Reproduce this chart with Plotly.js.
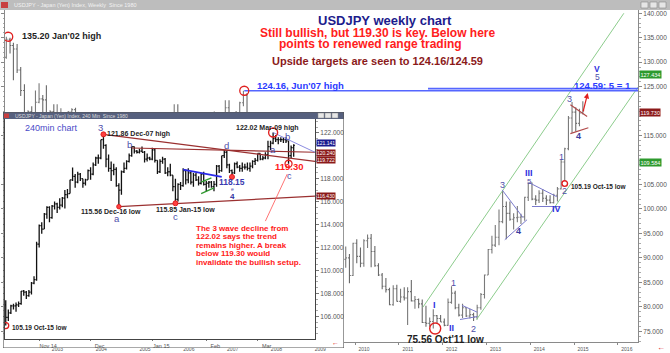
<!DOCTYPE html>
<html><head><meta charset="utf-8">
<script src="https://cdn.plot.ly/plotly-3.0.1.min.js"></script>
<style>
html,body{margin:0;padding:0;background:#fff;width:670px;height:353px;overflow:hidden;}
#main{position:absolute;left:0;top:0;width:670px;height:353px;}
#inset{position:absolute;left:3px;top:112px;width:341px;height:236px;}
</style></head><body>
<div id="main"></div><div id="inset"></div>
<script>
const FONT = 'Liberation Sans, Arial, sans-serif';

// ================= MAIN (weekly) chart data: monthly OHLC =================
const mainStartYear = 2002;
const mOpen = [
131.0,134.7,133.4,132.7,128.4,124.2,119.5,119.9,118.3,121.8,122.5,122.3,
118.7,119.9,117.6,118.0,119.0,119.4,119.8,120.3,116.8,111.5,109.1,109.5,
107.1,105.8,109.1,103.9,110.2,110.2,108.7,111.8,109.3,110.4,105.8,103.1,
102.6,103.6,104.6,107.1,104.7,108.6,110.9,112.6,111.4,113.4,116.4,119.7,
117.9,117.2,115.8,117.5,113.9,112.5,114.4,114.7,117.4,118.1,117.0,115.7,
119.0,120.7,118.5,117.8,119.5,121.7,123.2,118.7,115.8,114.9,115.4,111.1,
111.7,106.4,103.9,99.7,104.0,105.5,106.1,108.1,108.8,106.0,98.5,95.5,
90.6,89.9,97.6,98.9,98.6,95.3,96.4,94.7,93.0,89.7,90.0,86.4,
93.0,90.3,88.9,93.5,94.0,91.3,88.4,86.5,84.2,83.5,80.4,83.7,
81.1,82.0,81.8,83.1,81.2,81.5,80.6,76.8,76.6,77.0,78.2,77.6,
76.9,76.2,80.9,82.8,79.8,78.3,79.8,78.1,78.4,77.9,79.8,82.5,
86.5,91.7,92.6,94.2,97.4,100.5,99.1,97.9,98.2,98.3,98.4,102.4,
105.3,102.0,101.8,103.2,102.2,101.8,101.3,102.8,104.1,109.6,112.3,118.6,
119.8,117.5,119.6];
const mHigh = [
135.2,135.0,134.0,133.7,129.0,125.5,120.2,121.0,124.2,125.7,123.3,125.3,
120.2,121.4,121.4,120.6,119.4,120.0,120.6,120.7,117.0,112.0,110.8,109.8,
107.7,109.8,112.2,110.4,114.9,111.0,112.3,112.0,111.4,111.7,106.0,106.0,
104.9,106.2,107.7,108.0,108.6,111.2,113.7,112.9,113.6,116.4,121.4,121.4,
118.0,119.0,119.2,118.7,114.3,116.1,117.5,117.6,118.3,119.9,118.3,119.2,
122.2,122.2,119.2,120.0,121.9,124.16,123.7,119.8,117.0,118.0,115.6,114.7,
111.8,108.6,104.0,105.0,105.5,108.6,108.6,110.7,109.0,106.2,100.5,96.5,
94.6,98.6,99.7,101.4,99.0,98.9,96.5,97.8,93.3,92.3,90.8,93.1,
93.8,92.1,93.8,94.8,94.9,92.4,88.9,86.9,85.9,83.9,84.4,84.5,
83.7,84.0,84.0,85.5,82.2,81.7,81.5,80.2,77.8,79.5,78.3,78.3,
77.6,81.7,84.2,83.3,80.6,80.6,79.9,79.6,78.8,80.4,82.8,86.6,
91.8,94.5,96.7,99.9,103.7,101.5,101.5,99.1,100.6,99.0,102.5,105.4,
105.4,102.8,103.8,104.1,102.8,102.8,103.1,104.5,110.1,112.5,118.98,121.86,
120.8,120.5,122.02];
const mLow = [
130.7,131.8,126.3,127.8,123.1,119.3,115.5,116.6,116.2,121.6,119.7,118.5,
117.4,116.5,115.9,117.8,115.1,116.9,115.7,116.1,110.6,107.9,107.0,106.8,
105.3,104.2,103.4,103.5,108.7,106.9,108.3,108.5,108.8,105.6,102.0,101.9,
101.7,103.3,103.8,104.2,104.5,106.5,109.5,108.8,109.3,112.8,116.0,115.6,
113.4,115.5,115.4,113.4,108.9,110.9,113.4,113.6,115.3,116.5,115.4,114.4,
118.6,118.3,115.2,117.3,118.7,121.0,118.3,111.6,113.5,114.0,107.2,110.8,
104.9,103.5,95.8,99.5,101.4,103.6,103.8,107.6,103.5,90.9,93.5,87.1,
87.1,89.1,93.5,97.0,94.4,94.5,91.7,92.7,88.2,88.0,84.8,86.3,
88.9,88.1,88.2,92.0,88.1,88.2,86.3,83.6,82.9,80.3,80.2,81.1,
80.8,81.3,76.3,81.1,79.6,79.7,76.7,75.9,75.9,75.56,76.6,76.9,
76.0,76.1,80.6,79.5,78.0,77.7,77.9,77.6,77.1,77.4,79.4,81.7,
86.5,90.9,92.2,92.6,97.1,93.8,97.6,95.8,97.3,96.9,97.6,101.6,
101.8,100.8,101.2,101.4,100.8,101.1,101.1,101.5,104.0,105.19,112.0,115.56,
115.85,116.9,119.3];
const mClose = [
134.7,133.4,132.7,128.4,124.2,119.5,119.9,118.3,121.8,122.5,122.3,118.7,
119.9,117.6,118.0,119.0,119.4,119.8,120.3,116.8,111.5,109.1,109.5,107.1,
105.8,109.1,103.9,110.2,110.2,108.7,111.8,109.3,110.4,105.8,103.1,102.6,
103.6,104.6,107.1,104.7,108.6,110.9,112.6,111.4,113.4,116.4,119.7,117.9,
117.2,115.8,117.5,113.9,112.5,114.4,114.7,117.4,118.1,117.0,115.7,119.0,
120.7,118.5,117.8,119.5,121.7,123.2,118.7,115.8,114.9,115.4,111.1,111.7,
106.4,103.9,99.7,104.0,105.5,106.1,108.1,108.8,106.0,98.5,95.5,90.6,
89.9,97.6,98.9,98.6,95.3,96.4,94.7,93.0,89.7,90.0,86.4,93.0,
90.3,88.9,93.5,94.0,91.3,88.4,86.5,84.2,83.5,80.4,83.7,81.1,
82.0,81.8,83.1,81.2,81.5,80.6,76.8,76.6,77.0,78.2,77.6,76.9,
76.2,80.9,82.8,79.8,78.3,79.8,78.1,78.4,77.9,79.8,82.5,86.5,
91.7,92.6,94.2,97.4,100.5,99.1,97.9,98.2,98.3,98.4,102.4,105.3,
102.0,101.8,103.2,102.2,101.8,101.3,102.8,104.1,109.6,112.3,118.6,119.8,
117.5,119.6,120.1];

// right-axis labels (120 and 110 sit under the coloured price boxes)
const mainYTicks = [75,80,85,90,95,100,105,115,125,130,135,140];
const yearLabels = ['2002','2003','2004','2005','2006','2007','2008','2009','2010','2011','2012','2013','2014','2015','2016'];

// key levels / drawn studies (date, price)
const jun07High = ['2007-06-22', 124.16];
const targetLevel = 124.59;
const targetStart = '2011-09-01';
const jan02High = ['2002-01-31', 135.20];
const oct11Low = ['2011-10-31', 75.56];
const oct15Low = ['2014-10-15', 105.19];
const channelUpper = [['2011-07-20', 79.9], ['2016-02-20', 140.0]];
const channelLower = [['2012-10-10', 77.4], ['2016-06-17', 124.9]];
const tri2012 = [[['2012-06-10',80.3],['2012-10-15',78.9]], [['2012-05-25',77.4],['2012-10-15',78.0]]];
const tri2013 = [[['2013-05-11',103.9],['2013-11-02',98.2]], [['2013-06-02',93.7],['2013-12-05',97.8]]];
const tri2014 = [[['2013-12-20',105.4],['2014-08-10',102.5]], [['2014-01-15',100.5],['2014-08-28',100.5]]];
const wave4Lines = [[['2014-12-01',121.3],['2015-04-20',118.9]], [['2014-12-01',115.4],['2015-04-30',116.6]]];
const mainArrowTip = ['2015-04-25', 123.7];
const mainBoxes = [[127.43,'127.434','#2e9a2e'],[119.73,'119.730','#8b1a1a'],[109.58,'109.584','#2e9a2e']];

// ================= INSET (240 min) chart data: daily OHLC =================
const insetStart = '2014-10-15';
const iOpen = [
107.0,105.9,106.3,106.9,106.9,107.0,107.1,108.2,108.1,107.8,108.1,108.9,109.2,
112.3,113.9,113.6,114.9,115.5,114.6,115.6,115.8,115.5,115.7,116.3,116.6,116.7,117.9,118.2,117.7,118.4,118.0,117.6,117.9,
118.7,118.4,119.2,119.8,119.8,121.4,120.9,119.7,118.9,118.7,118.8,117.4,117.0,118.6,118.9,119.5,120.0,120.8,120.4,120.3,120.4,120.3,119.7,119.8,
119.7,120.5,119.6,118.6,119.5,119.7,118.5,118.6,118.3,117.3,116.2,117.5,117.4,118.7,117.9,118.5,117.7,118.3,117.9,117.6,118.4,
117.5,117.6,117.7,117.3,117.5,119.1,118.7,120.0,120.3,119.2,118.7,118.5,119.3,119.0,118.9,119.0,119.0,118.9,119.1,119.5,
119.6,120.2,119.7,119.8,120.1,120.8,121.1,121.5,121.4,121.4,121.4,121.4,121.3,120.0,120.7];
const iHigh = [
107.4,106.6,107.0,107.1,107.2,107.3,108.2,108.3,108.2,108.3,109.0,109.5,112.5,
114.0,114.2,115.0,115.6,115.6,115.7,116.0,115.9,116.3,116.4,117.0,117.1,117.9,118.98,118.4,118.6,118.5,118.0,118.0,118.8,
119.0,119.4,119.9,120.1,121.4,121.86,121.0,120.1,119.5,119.3,119.0,117.6,118.7,119.4,119.6,120.2,120.8,120.8,120.5,120.6,120.8,120.4,120.2,119.9,
120.7,120.6,119.6,119.7,119.9,119.8,119.0,119.3,118.3,118.0,117.6,117.7,118.9,118.8,118.9,118.6,118.5,118.5,118.2,118.5,118.6,
117.8,117.8,117.8,117.8,119.2,119.2,120.0,120.5,120.4,119.3,118.8,119.4,119.5,119.2,119.4,119.3,119.4,119.4,119.6,119.8,
120.2,120.2,120.0,120.3,121.3,121.3,122.02,121.8,121.6,121.6,121.6,121.6,121.3,120.9,121.0];
const iLow = [
105.19,105.6,106.2,106.6,106.4,106.8,107.0,107.8,107.5,107.7,107.9,108.8,109.1,
112.0,113.2,113.6,114.5,114.2,114.5,115.3,115.0,115.3,115.5,115.4,116.3,116.7,117.8,117.2,117.6,117.8,117.2,117.4,117.9,
117.9,118.3,119.1,119.3,119.7,120.6,119.0,118.6,117.8,118.3,117.3,115.56,116.6,118.5,118.8,119.4,119.9,120.2,120.2,120.2,120.3,119.4,119.5,119.6,
119.6,119.4,118.4,118.5,119.3,118.4,118.2,118.2,116.9,115.85,116.0,117.0,117.3,117.5,117.6,117.5,117.3,117.8,117.4,117.5,117.4,
116.9,117.2,117.2,116.9,117.3,118.5,118.6,119.8,118.9,118.5,118.15,118.4,118.9,118.6,118.6,118.8,118.7,118.6,118.9,119.2,
119.5,119.6,119.6,119.7,119.7,120.5,121.0,121.2,121.0,121.2,121.1,121.1,119.3,119.8,119.9];
const iClose = [
105.9,106.3,106.9,106.9,107.0,107.1,108.2,108.1,107.8,108.1,108.9,109.2,112.3,
113.9,113.6,114.9,115.5,114.6,115.6,115.8,115.5,115.7,116.3,116.6,116.7,117.9,118.2,117.7,118.4,118.0,117.6,117.9,118.7,
118.4,119.2,119.8,119.8,121.4,120.9,119.7,118.9,118.7,118.8,117.4,117.0,118.6,118.9,119.5,120.0,120.8,120.4,120.3,120.4,120.3,119.7,119.8,119.7,
120.5,119.6,118.6,119.5,119.7,118.5,118.6,118.3,117.3,116.2,117.5,117.4,118.7,117.9,118.5,117.7,118.3,117.9,117.6,118.4,117.5,
117.6,117.7,117.3,117.5,119.1,118.7,120.0,120.3,119.2,118.7,118.5,119.3,119.0,118.9,119.0,119.0,118.9,119.1,119.5,119.6,
120.2,119.7,119.8,120.1,120.8,121.1,121.5,121.4,121.4,121.4,121.4,121.3,120.0,120.7,120.9];

// inset right-axis labels (120 sits under the coloured price boxes)
const insetYTicks = [106,108,110,112,114,116,118,122];
const insetTickDates = ['2014-11-03','2014-12-01','2015-01-02','2015-02-02','2015-03-02'];
const insetTickText = ['Nov 14','Dec','Jan 15','Feb','Mar'];

const dec07High = ['2014-12-08', 121.86];
const dec16Low = ['2014-12-16', 115.56];
const jan15Low = ['2015-01-15', 115.85];
const feb16Low = ['2015-02-16', 118.15];
const mar09High = ['2015-03-10', 122.02];
const mar18Low = ['2015-03-18', 119.30];
const insetEnd = '2015-04-01 07:00';
const triTop = [dec07High, [insetEnd, 119.50]];
const triB = [['2014-12-23', 120.67], [insetEnd, 120.30]];
const triBottom = [dec16Low, [insetEnd, 116.47]];
const blueLine = [['2015-01-20', 118.78], ['2015-02-10', 118.15]];
const greenLines = [[['2015-01-29',117.7],['2015-02-04',118.06]], [['2015-01-29',116.7],['2015-02-05',117.2]]];
const lightBlueLine = [mar09High, [insetEnd, 120.30]];
const pointerLine = [['2015-03-05', 114.3], ['2015-03-17 12:00', 118.4]];
const insetBoxes = [[121.13,'121.141','#1a1a8f'],[120.26,'120.240','#8b1a1a'],[119.66,'119.722','#8b1a1a'],[116.47,'116.430','#8b1a1a']];

// ================= helpers =================
function seg(p, color, width, xr, yr, dash) {
  return {type:'line', xref:xr||'x', yref:yr||'y', x0:p[0][0], y0:p[0][1], x1:p[1][0], y1:p[1][1],
          line:{color:color, width:width, dash:dash||'solid'}, layer:'above'};
}
function ring(pt, r, color, width, fill) {
  return {type:'circle', xref:'x', yref:'y', xsizemode:'pixel', ysizemode:'pixel',
          xanchor:pt[0], yanchor:pt[1], x0:-r, x1:r, y0:-r, y1:r,
          line:{color:color, width:width}, fillcolor:fill||'rgba(0,0,0,0)', layer:'above'};
}

// ---------- MAIN ----------
const mL=5, mR=32, mT=10, mB=11, mW=670-mL-mR, mH=353-mT-mB;
function mp(px,py){return {x:(px-mL)/mW, y:1-(py-mT)/mH};}
function mtxt(px,py,text,size,color,anchor){
  const p=mp(px,py);
  return {xref:'paper',yref:'paper',x:p.x,y:p.y,text:text,showarrow:false,xanchor:anchor||'center',yanchor:'middle',
          font:{family:FONT,size:size,color:color}};
}
const monthDates = mClose.map((_,i)=>{const y=mainStartYear+Math.floor(i/12); const m=i%12+1; return y+'-'+(m<10?'0':'')+m+'-15';});
const yearTicks = yearLabels.map(y=>y+'-01-01');

const mainTrace = {type:'ohlc', x:monthDates, open:mOpen, high:mHigh, low:mLow, close:mClose,
  increasing:{line:{color:'#7a7a7a',width:1.1}}, decreasing:{line:{color:'#6a6a6a',width:1.1}},
  tickwidth:0.4, hoverinfo:'skip', showlegend:false};

const xEnd = '2016-06-17';
const mainShapes = [
  {type:'rect',xref:'paper',yref:'paper',x0:-mL/mW,x1:1+mR/mW,y0:1,y1:1+mT/mH,fillcolor:'#bdbdbd',line:{width:0}},
  {type:'rect',xref:'paper',yref:'paper',x0:mp(1,0).x,x1:mp(8,0).x,y0:mp(0,8).y,y1:mp(0,2).y,fillcolor:'#c84040',line:{width:0}},
  {type:'rect',xref:'paper',yref:'paper',x0:mp(641,0).x,x1:mp(648,0).x,y0:mp(0,8).y,y1:mp(0,2).y,fillcolor:'#e6e6e6',line:{color:'#888',width:0.6}},
  {type:'rect',xref:'paper',yref:'paper',x0:mp(650,0).x,x1:mp(657,0).x,y0:mp(0,8).y,y1:mp(0,2).y,fillcolor:'#e6e6e6',line:{color:'#888',width:0.6}},
  {type:'rect',xref:'paper',yref:'paper',x0:mp(659,0).x,x1:mp(666,0).x,y0:mp(0,8).y,y1:mp(0,2).y,fillcolor:'#e6e6e6',line:{color:'#888',width:0.6}},
  seg(channelUpper,'#8ccc8c',1), seg(channelLower,'#8ccc8c',1),
  seg([jun07High,[xEnd,jun07High[1]]],'#5566ff',1.3),
  seg([[targetStart,targetLevel],[xEnd,targetLevel]],'#5566ff',1.6),
  seg(tri2012[0],'#7a7acc',1), seg(tri2012[1],'#7a7acc',1),
  seg(tri2013[0],'#7a7acc',1), seg(tri2013[1],'#7a7acc',1),
  seg(tri2014[0],'#7a7acc',1), seg(tri2014[1],'#7a7acc',1),
  seg(wave4Lines[0],'#b04848',1.1), seg(wave4Lines[1],'#b04848',1.1),
  ring(jan02High,4.5,'#e02020',1.3), ring(jun07High,4.5,'#e02020',1.3),
  ring(oct11Low,5.5,'#e02020',1.4), ring(oct15Low,2.8,'#e02020',1.4,'#ffffff')
];

const slate='#4e4eaa', roman='#2f2fe0';
const mainAnn = [
  mtxt(12,5,"USDJPY - Japan (Yen) Index, Weekly  Since 1980",5.5,'#f2f2f2','left'),
  mtxt(20,36,"<b>135.20 Jan'02 high</b>",9,'#1e1e1e','left'),
  mtxt(255,86,"<b>124.16, Jun'07 high</b>",9.5,'#2b3bff','left'),
  mtxt(385,20.5,"<b>USDJPY weekly chart</b>",13,'#1c1c8c'),
  mtxt(378,33,"<b>Still bullish, but 119.30 is key. Below here</b>",12,'#ff2020'),
  mtxt(370,44.5,"<b>points to renewed range trading</b>",12,'#ff2020'),
  mtxt(377,60.5,"<b>Upside targets are seen to 124.16/124.59</b>",11,'#8b1a1a'),
  mtxt(597,68.5,"<b>V</b>",8.5,roman), mtxt(597,77,"5",8.5,slate),
  mtxt(633,85.5,"<b>124.59: 5 = 1</b>",9.5,'#2b3bff','right'),
  mtxt(569,99,"3",9,slate), mtxt(578,136,"<b>4</b>",9,'#3a3aa0'),
  mtxt(561,157,"1",9,slate), mtxt(564,191,"2",9,slate),
  mtxt(529,173,"<b>III</b>",9,roman), mtxt(529,181,"5",8,slate),
  mtxt(556,209,"<b>IV</b>",9,roman),
  mtxt(502,185,"3",9,slate), mtxt(518,231,"<b>4</b>",9,'#3a3aa0'),
  mtxt(453,283,"1",9,slate), mtxt(473,329,"2",9,slate),
  mtxt(434,305,"<b>I</b>",9,roman), mtxt(451,328,"<b>II</b>",9,roman),
  mtxt(569,186,"<b>105.19 Oct-15 low</b>",6.5,'#1e1e1e','left'),
  mtxt(405,339,"<b>75.56 Oct'11 low</b>",10,'#1e1e1e','left'),
  mtxt(661,347,"<b>←</b>",8,'#e02020'),
  {xref:'x',yref:'y',x:mainArrowTip[0],y:mainArrowTip[1],ax:-5,ay:20,text:'',showarrow:true,
   arrowcolor:'#e02020',arrowhead:2,arrowsize:0.9,arrowwidth:1.2}
].concat(mainBoxes.map(b=>({xref:'paper',yref:'y',x:1,y:b[0],xanchor:'left',yanchor:'middle',xshift:1,
   text:b[1],showarrow:false,bgcolor:b[2],borderpad:0.5,font:{family:FONT,size:5.5,color:'#ffffff'}})));

const mainLayout = {
  width:670, height:353, margin:{l:mL,r:mR,t:mT,b:mB,pad:0},
  paper_bgcolor:'#ffffff', plot_bgcolor:'#ffffff', showlegend:false, dragmode:false,
  xaxis:{type:'date', range:['2002-01-04',xEnd], rangeslider:{visible:false}, showgrid:false, zeroline:false,
    showline:true, linecolor:'#8a8a8a', linewidth:1, mirror:true, ticks:'outside', ticklen:2, tickcolor:'#888',
    tickvals:yearTicks, ticktext:yearLabels, tickfont:{family:FONT,size:5,color:'#555'}, ticklabelshift:9, ticklabelstandoff:0},
  yaxis:{side:'right', range:[72.8,140.67], showgrid:false, zeroline:false, showline:true, linecolor:'#8a8a8a',
    mirror:'ticks', ticks:'outside', ticklen:3, tickcolor:'#888', tickvals:mainYTicks,
    ticktext:mainYTicks.map(v=>v.toFixed(3)), tickfont:{family:FONT,size:6.5,color:'#555'},
    minor:{dtick:1, ticks:'outside', ticklen:1.5, tickcolor:'#aaa'}},
  shapes:mainShapes, annotations:mainAnn
};
Plotly.newPlot('main',[mainTrace],mainLayout,{staticPlot:true,displayModeBar:false});

// ---------- INSET ----------
const iL=2, iR=29, iT=7, iB=9, iW=341-iL-iR, iH=236-iT-iB, iOX=3, iOY=112;
function ip(px,py){return {x:(px-iOX-iL)/iW, y:1-(py-iOY-iT)/iH};}
function itxt(px,py,text,size,color,anchor){
  const p=ip(px,py);
  return {xref:'paper',yref:'paper',x:p.x,y:p.y,text:text,showarrow:false,xanchor:anchor||'center',yanchor:'middle',
          font:{family:FONT,size:size,color:color}};
}
const insetDates=[];
(function(){let d=new Date(insetStart+'T00:00:00Z');
  while(insetDates.length<iClose.length){const w=d.getUTCDay(); if(w!==0&&w!==6) insetDates.push(d.toISOString().slice(0,10)); d=new Date(d.getTime()+86400000);}})();

const insetTrace = {type:'ohlc', x:insetDates, open:iOpen, high:iHigh, low:iLow, close:iClose,
  increasing:{line:{color:'#111',width:1.3}}, decreasing:{line:{color:'#111',width:1.3}},
  tickwidth:0.45, hoverinfo:'skip', showlegend:false};

const insetShapes = [
  {type:'rect',xref:'paper',yref:'paper',x0:-iL/iW,x1:1+iR/iW,y0:1,y1:1+iT/iH,fillcolor:'#56607e',line:{width:0}},
  {type:'rect',xref:'paper',yref:'paper',x0:ip(4,0).x,x1:ip(9,0).x,y0:ip(0,118).y,y1:ip(0,113.5).y,fillcolor:'#c84040',line:{width:0}},
  {type:'rect',xref:'paper',yref:'paper',x0:ip(318,0).x,x1:ip(324,0).x,y0:ip(0,118).y,y1:ip(0,113).y,fillcolor:'#e6e6e6',line:{color:'#888',width:0.5}},
  {type:'rect',xref:'paper',yref:'paper',x0:ip(325,0).x,x1:ip(331,0).x,y0:ip(0,118).y,y1:ip(0,113).y,fillcolor:'#e6e6e6',line:{color:'#888',width:0.5}},
  {type:'rect',xref:'paper',yref:'paper',x0:ip(332,0).x,x1:ip(338,0).x,y0:ip(0,118).y,y1:ip(0,113).y,fillcolor:'#e6e6e6',line:{color:'#888',width:0.5}},
  {type:'rect',xref:'paper',yref:'paper',x0:-iL/iW,x1:1+iR/iW,y0:-iB/iH,y1:1+iT/iH,line:{color:'#555',width:1.2},fillcolor:'rgba(0,0,0,0)'},
  seg(triTop,'#9b3030',1.2), seg(triB,'#9b3030',1.2), seg(triBottom,'#9b3030',1.2),
  seg(blueLine,'#2a2ae8',1.8), seg(greenLines[0],'#2e9a2e',1.3), seg(greenLines[1],'#2e9a2e',1.3),
  seg(lightBlueLine,'#8c8ce0',1), seg(pointerLine,'#ff5050',0.8),
  ring(dec07High,2.5,'#e02020',1,'#ff4040'), ring(dec16Low,2.2,'#e02020',1,'#ff4040'),
  ring(jan15Low,2.5,'#e02020',1,'#ff4040'), ring(feb16Low,2.5,'#e02020',1,'#ff4040'),
  ring(mar09High,4.5,'#e02020',1.4), ring(mar18Low,3.5,'#e02020',1.3), ring(oct15Low,3,'#e02020',1.3)
];

const insetAnn = [
  itxt(13,115.5,"USDJPY - Japan (Yen) Index, 240 Min  Since 1980",5,'#dcdcdc','left'),
  itxt(51,128,"240min chart",9,'#4a4ac8'),
  itxt(100,127,"3",9.5,slate),
  itxt(105,134.5,"<b>121.86 Dec-07 high</b>",7,'#1e1e1e','left'),
  itxt(130,144,"b",9.5,slate), itxt(226,145,"d",9.5,slate),
  itxt(111,211,"<b>115.56 Dec-16 low</b>",7,'#1e1e1e'),
  itxt(117,218.5,"a",9.5,slate),
  itxt(185,209,"<b>115.85 Jan-15 low</b>",7,'#1e1e1e'),
  itxt(175,216.5,"c",9.5,slate),
  itxt(232,182.5,"<b>118.15</b>",8.5,'#3a3ab0'),
  itxt(232,189,"e",5,slate), itxt(232,196.5,"<b>4</b>",8,'#3030a0'),
  itxt(267,128,"<b>122.02 Mar-09 high</b>",7,'#1e1e1e'),
  itxt(287,136,"b",9.5,slate), itxt(273,150,"a",9.5,slate), itxt(289,176,"c",9,slate),
  itxt(289,167,"<b>119.30</b>",9.5,'#ff2020'),
  itxt(194,228,"<b>The 3 wave decline from</b>",8,'#ff2020','left'),
  itxt(194,236.5,"<b>122.02 says the trend</b>",8,'#ff2020','left'),
  itxt(194,245,"<b>remains higher. A break</b>",8,'#ff2020','left'),
  itxt(194,253.5,"<b>below 119.30 would</b>",8,'#ff2020','left'),
  itxt(194,262,"<b>invalidate the bullish setup.</b>",8,'#ff2020','left'),
  itxt(10,327.5,"<b>105.19 Oct-15 low</b>",6.5,'#1e1e1e','left'),
  itxt(335,342,"<b>←</b>",7,'#e02020')
].concat(insetBoxes.map(b=>({xref:'paper',yref:'y',x:1,y:b[0],xanchor:'left',yanchor:'middle',xshift:1,
   text:b[1],showarrow:false,bgcolor:b[2],borderpad:0,font:{family:FONT,size:5,color:'#ffffff'}})));

const insetLayout = {
  width:341, height:236, margin:{l:iL,r:iR,t:iT,b:iB,pad:0},
  paper_bgcolor:'#ffffff', plot_bgcolor:'#ffffff', showlegend:false, dragmode:false,
  xaxis:{type:'date', range:['2014-10-14 17:00',insetEnd], rangebreaks:[{bounds:['sat','mon']}],
    rangeslider:{visible:false}, showgrid:false, zeroline:false, showline:true, linecolor:'#444', mirror:true,
    ticks:'outside', ticklen:1, tickcolor:'#777', tickvals:insetTickDates, ticktext:insetTickText,
    tickfont:{family:FONT,size:5.5,color:'#555'}, ticklabelshift:9, ticklabelstandoff:0},
  yaxis:{side:'right', range:[104.02,123.2], showgrid:false, zeroline:false, showline:true, linecolor:'#444',
    mirror:'ticks', ticks:'outside', ticklen:3, tickcolor:'#777', tickvals:insetYTicks,
    ticktext:insetYTicks.map(v=>v.toFixed(3)), tickfont:{family:FONT,size:6.5,color:'#555'},
    minor:{dtick:0.5, ticks:'outside', ticklen:1.5, tickcolor:'#aaa'}},
  shapes:insetShapes, annotations:insetAnn
};
Plotly.newPlot('inset',[insetTrace],insetLayout,{staticPlot:true,displayModeBar:false});
</script></body></html>
